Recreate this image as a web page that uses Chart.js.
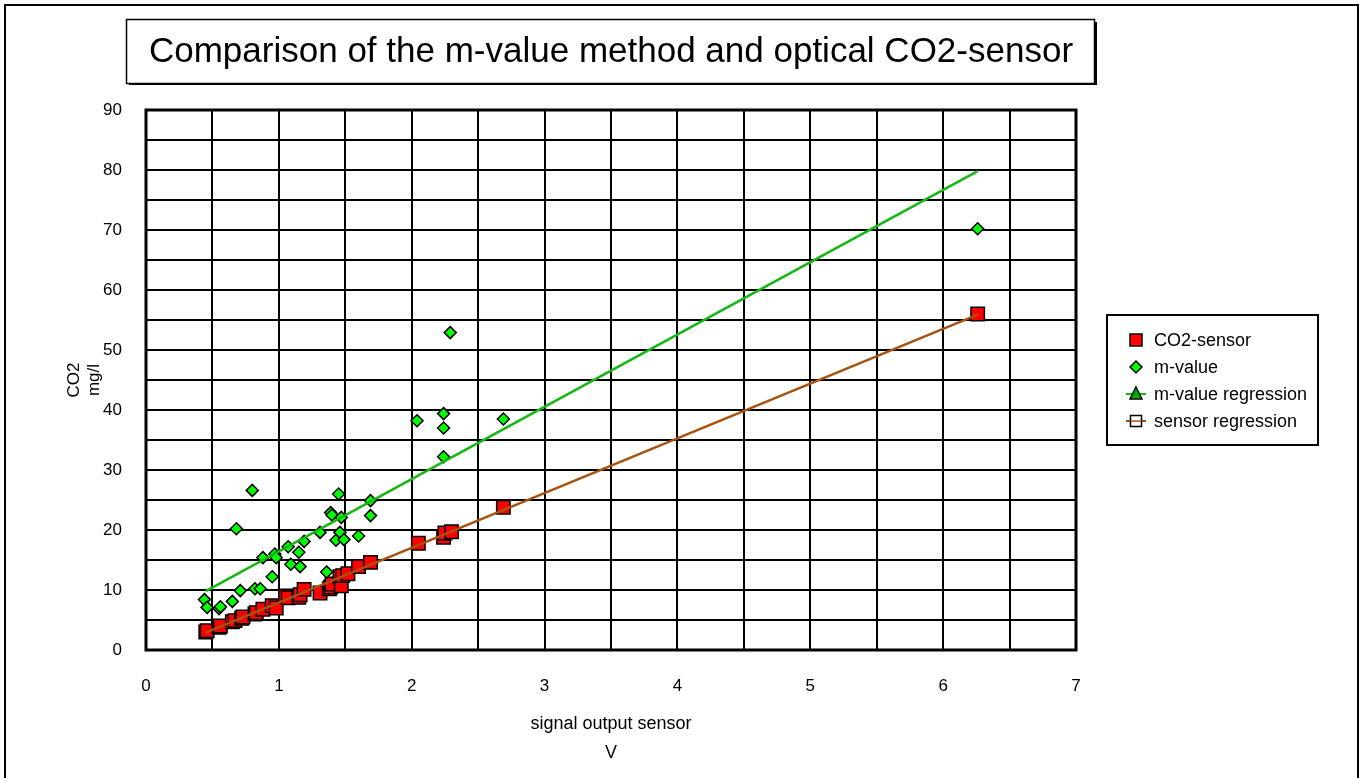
<!DOCTYPE html>
<html>
<head>
<meta charset="utf-8">
<script src="https://cdn.jsdelivr.net/npm/chart.js@4.4.1/dist/chart.umd.min.js"></script>
<style>
  html, body { margin: 0; padding: 0; background: #fff; }
  #wrap { width: 1362px; height: 778px; }
</style>
</head>
<body>
<div id="wrap"><canvas id="co2Chart" width="1362" height="778"></canvas></div>
<script>
const chartTitle = "Comparison of the m-value method and optical CO2-sensor";

// CO2-sensor readings (signal V -> mg/l)
const sensorX = [0.45, 0.46, 0.55, 0.56, 0.65, 0.67, 0.72, 0.73, 0.82, 0.83, 0.88, 0.95, 0.98, 1.05, 1.07, 1.15, 1.16,
                 1.19, 1.31, 1.38, 1.39, 1.40, 1.46, 1.47, 1.48, 1.52, 1.60, 1.69, 2.05, 2.24, 2.25, 2.30, 2.69, 6.26];
const sensorY = [3.0, 3.2, 3.8, 4.0, 4.7, 4.9, 5.3, 5.5, 6.0, 6.2, 6.8, 7.4, 7.0, 9.0, 8.7, 8.8, 9.2,
                 10.1, 9.5, 10.2, 10.5, 11.0, 12.2, 10.7, 12.4, 12.7, 13.9, 14.6, 17.8, 18.8, 19.5, 19.7, 23.8, 56.0];

// m-value method
const mValueX = [0.44, 0.46, 0.55, 0.56, 0.65, 0.68, 0.71, 0.80, 0.82, 0.86, 0.88, 0.95, 0.97, 0.98, 1.07, 1.09, 1.15, 1.16, 1.19,
                 1.31, 1.36, 1.39, 1.40, 1.43, 1.45, 1.46, 1.47, 1.49, 1.60, 1.69, 1.69, 2.04, 2.24, 2.24, 2.24, 2.29, 2.69, 6.26];
const mValueY = [8.4, 7.1, 6.9, 7.2, 8.1, 20.2, 9.9, 26.6, 10.2, 10.2, 15.4, 12.2, 16.0, 15.4, 17.2, 14.3, 16.3, 13.9, 18.1,
                 19.6, 13.0, 22.9, 22.5, 18.3, 26.0, 19.6, 22.1, 18.4, 19.0, 24.9, 22.4, 38.2, 39.4, 37.0, 32.2, 52.9, 38.5, 70.2];

// regression lines
const mRegX = [0.45, 6.26];
const mRegY = [9.8, 79.8];
const sRegX = [0.45, 6.26];
const sRegY = [2.9, 55.9];

const legendLabels = ["CO2-sensor", "m-value", "m-value regression", "sensor regression"];

const toPoints = (xs, ys) => xs.map((x, i) => ({x: x, y: ys[i]}));

const FONT = "'Liberation Sans', Arial, sans-serif";
const GREEN_LINE = '#13b813';
const BROWN_LINE = '#a8520f';

// frame, title box and legend
const framePlugin = {
    id: 'frame',
    beforeDraw(chart) {
        const ctx = chart.ctx;
        ctx.save();
        ctx.fillStyle = '#fff';
        ctx.fillRect(0, 0, chart.width, chart.height);
        // outer border
        ctx.strokeStyle = '#000';
        ctx.lineWidth = 2;
        ctx.strokeRect(5, 5, 1353, 800);
        // title box with shadow
        ctx.fillStyle = '#000';
        ctx.fillRect(129, 83, 968, 2);
        ctx.fillRect(1095, 22, 2, 63);
        ctx.lineWidth = 1.5;
        ctx.strokeRect(126.5, 19.5, 968, 64);
        ctx.font = "35px " + FONT;
        ctx.textAlign = 'center';
        ctx.textBaseline = 'middle';
        ctx.fillText(chartTitle, 611, 52);
        ctx.restore();
    },
    beforeDatasetsDraw(chart) {
        const a = chart.chartArea;
        const ctx = chart.ctx;
        ctx.save();
        ctx.strokeStyle = '#000';
        ctx.lineWidth = 3;
        ctx.strokeRect(a.left, a.top, a.right - a.left, a.bottom - a.top);
        ctx.restore();
    },
    afterDraw(chart) {
        const ctx = chart.ctx;
        ctx.save();
        ctx.strokeStyle = '#000';
        ctx.lineWidth = 2;
        ctx.strokeRect(1107, 315, 211, 130);
        const cx = 1136;
        const rows = [340, 367, 394, 421];
        ctx.lineWidth = 1.5;
        // CO2-sensor
        ctx.fillStyle = '#ff0000';
        ctx.fillRect(cx - 6, rows[0] - 6, 12, 12);
        ctx.strokeRect(cx - 6, rows[0] - 6, 12, 12);
        // m-value
        ctx.beginPath();
        ctx.moveTo(cx, rows[1] - 6); ctx.lineTo(cx + 6, rows[1]); ctx.lineTo(cx, rows[1] + 6); ctx.lineTo(cx - 6, rows[1]);
        ctx.closePath();
        ctx.fillStyle = '#00ff00';
        ctx.fill(); ctx.stroke();
        // m-value regression
        ctx.strokeStyle = GREEN_LINE; ctx.lineWidth = 2;
        ctx.beginPath(); ctx.moveTo(cx - 10, rows[2]); ctx.lineTo(cx + 10, rows[2]); ctx.stroke();
        ctx.strokeStyle = '#000'; ctx.lineWidth = 1.5;
        ctx.beginPath();
        ctx.moveTo(cx, rows[2] - 7); ctx.lineTo(cx + 6, rows[2] + 5); ctx.lineTo(cx - 6, rows[2] + 5);
        ctx.closePath();
        ctx.fillStyle = '#00b000';
        ctx.fill(); ctx.stroke();
        // sensor regression
        ctx.strokeStyle = BROWN_LINE; ctx.lineWidth = 2;
        ctx.beginPath(); ctx.moveTo(cx - 10, rows[3]); ctx.lineTo(cx + 10, rows[3]); ctx.stroke();
        ctx.strokeStyle = '#000'; ctx.lineWidth = 1.5;
        ctx.fillStyle = '#fff';
        ctx.fillRect(cx - 5.5, rows[3] - 5.5, 11, 11);
        ctx.strokeRect(cx - 5.5, rows[3] - 5.5, 11, 11);
        ctx.beginPath(); ctx.moveTo(cx - 5.5, rows[3]); ctx.lineTo(cx + 5.5, rows[3]);
        ctx.strokeStyle = BROWN_LINE; ctx.stroke();
        // labels
        ctx.fillStyle = '#000';
        ctx.font = "18px " + FONT;
        ctx.textAlign = 'left';
        ctx.textBaseline = 'middle';
        legendLabels.forEach((txt, i) => ctx.fillText(txt, 1154, rows[i] + 1));
        ctx.restore();
    }
};

new Chart(document.getElementById('co2Chart'), {
    type: 'scatter',
    data: {
        datasets: [{
            label: legendLabels[0],
            data: toPoints(sensorX, sensorY),
            pointStyle: 'rect',
            pointRadius: 9.5,
            backgroundColor: '#ff0000',
            borderColor: '#000',
            borderWidth: 1.5,
            order: 3
        }, {
            label: legendLabels[1],
            data: toPoints(mValueX, mValueY),
            pointStyle: 'rectRot',
            pointRadius: 6,
            backgroundColor: '#00ff00',
            borderColor: '#000',
            borderWidth: 1.5,
            order: 2
        }, {
            label: legendLabels[2],
            data: toPoints(mRegX, mRegY),
            showLine: true,
            pointRadius: 0,
            borderColor: GREEN_LINE,
            borderWidth: 2.5,
            order: 1
        }, {
            label: legendLabels[3],
            data: toPoints(sRegX, sRegY),
            showLine: true,
            pointRadius: 0,
            borderColor: BROWN_LINE,
            borderWidth: 2.5,
            order: 0
        }]
    },
    options: {
        responsive: false,
        animation: false,
        layout: {
            padding: {left: 0, top: 110, right: 286, bottom: 0}
        },
        scales: {
            x: {
                type: 'linear',
                min: 0,
                max: 7,
                afterFit: (scale) => { scale.height = 128; },
                ticks: {
                    stepSize: 0.5,
                    autoSkip: false,
                    maxRotation: 0,
                    padding: 26,
                    color: '#000',
                    font: {family: FONT, size: 17},
                    callback: (v) => Number.isInteger(v) ? v : ''
                },
                grid: {color: '#000', lineWidth: 2, drawTicks: false},
                border: {display: false},
                title: {
                    display: true,
                    text: ['signal output sensor', 'V'],
                    color: '#000',
                    font: {family: FONT, size: 18, lineHeight: '29px'},
                    padding: {top: 0, bottom: 10}
                }
            },
            y: {
                min: 0,
                max: 90,
                afterFit: (scale) => { scale.width = 146; },
                ticks: {
                    stepSize: 5,
                    autoSkip: false,
                    padding: 24,
                    color: '#000',
                    font: {family: FONT, size: 17},
                    callback: (v) => v % 10 === 0 ? v : ''
                },
                grid: {color: '#000', lineWidth: 2, drawTicks: false},
                border: {display: false},
                title: {
                    display: true,
                    text: ['CO2', 'mg/l'],
                    color: '#000',
                    font: {family: FONT, size: 17, lineHeight: '20px'},
                    padding: {top: 64, bottom: 0}
                }
            }
        },
        plugins: {
            legend: {display: false},
            title: {display: false},
            tooltip: {enabled: false}
        }
    },
    plugins: [framePlugin]
});
</script>
</body>
</html>
